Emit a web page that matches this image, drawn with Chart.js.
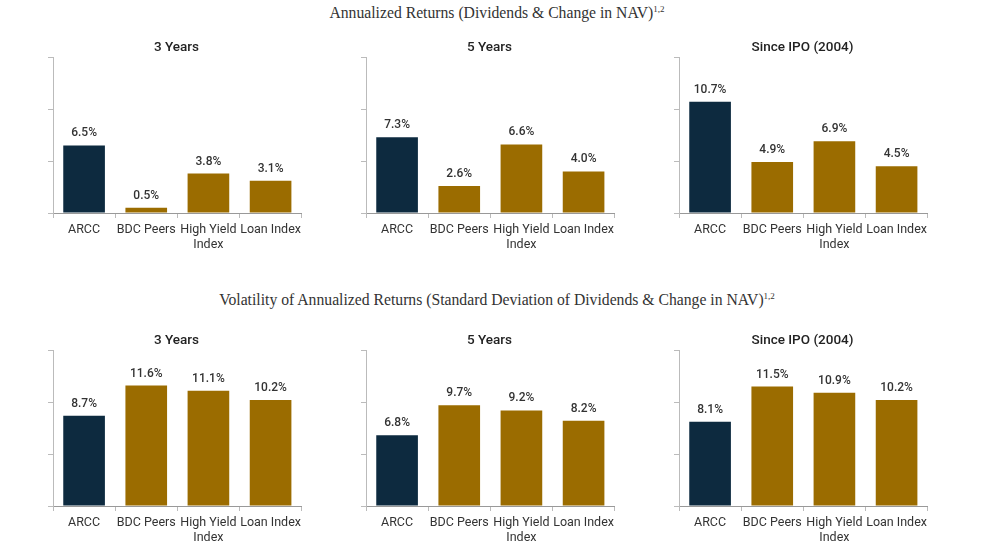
<!DOCTYPE html>
<html><head><meta charset="utf-8">
<script src="https://cdn.jsdelivr.net/npm/chart.js@4/dist/chart.umd.min.js"></script>
<style>
body{margin:0;background:#fff;width:994px;height:554px;position:relative;overflow:hidden;font-family:"Liberation Serif",serif;color:#333}
.h{position:absolute;left:0;width:994px;text-align:center;font-size:15.7px}
.h sup{font-size:9px}
.p{position:absolute;width:273px;height:220px}
</style></head><body>
<div class="h" style="top:4px">Annualized Returns (Dividends &amp; Change in NAV)<sup>1,2</sup></div>
<div class="h" style="top:291px">Volatility of Annualized Returns (Standard Deviation of Dividends &amp; Change in NAV)<sup>1,2</sup></div>
<div class="p" style="left:32px;top:36px"><canvas id="c0"></canvas></div>
<div class="p" style="left:345px;top:36px"><canvas id="c1"></canvas></div>
<div class="p" style="left:658px;top:36px"><canvas id="c2"></canvas></div>
<div class="p" style="left:32px;top:329px"><canvas id="c3"></canvas></div>
<div class="p" style="left:345px;top:329px"><canvas id="c4"></canvas></div>
<div class="p" style="left:658px;top:329px"><canvas id="c5"></canvas></div>
<script>
const categories = ['ARCC', 'BDC Peers', ['High Yield', 'Index'], 'Loan Index'];
const periods = ['3 Years', '5 Years', 'Since IPO (2004)'];
const returns3 = [6.5, 0.5, 3.8, 3.1];
const returns5 = [7.3, 2.6, 6.6, 4.0];
const returnsIPO = [10.7, 4.9, 6.9, 4.5];
const vol3 = [8.7, 11.6, 11.1, 10.2];
const vol5 = [6.8, 9.7, 9.2, 8.2];
const volIPO = [8.1, 11.5, 10.9, 10.2];
const yTicks = [0, 5, 10, 15];

const barColors = ['#0d2a3f', '#9b6c00', '#9b6c00', '#9b6c00'];

// draws value labels above the bars
const valueLabels = {
    id: 'valueLabels',
    afterDatasetsDraw(chart) {
        const ctx = chart.ctx;
        ctx.save();
        ctx.font = '500 12px Roboto';
        ctx.fillStyle = '#333';
        ctx.textAlign = 'center';
        chart.getDatasetMeta(0).data.forEach((bar, i) => {
            ctx.fillText(chart.data.datasets[0].data[i].toFixed(1) + '%', bar.x, bar.y - 9);
        });
        ctx.restore();
    }
};

function makeChart(id, title, values) {
    new Chart(document.getElementById(id), {
        type: 'bar',
        data: {
            labels: categories,
            datasets: [{ data: values, backgroundColor: barColors, barPercentage: 0.67, categoryPercentage: 1 }]
        },
        options: {
            responsive: false, animation: false,
            layout: { padding: { left: 16, right: 0, top: 0, bottom: 0 } },
            plugins: {
                legend: { display: false },
                tooltip: { enabled: false },
                title: { display: true, text: title, color: '#222', font: { family: 'Roboto', size: 13.5, weight: '500' }, padding: { top: 4, bottom: 1 } }
            },
            scales: {
                x: {
                    grid: { display: true, drawOnChartArea: false, offset: true, color: '#bbb', tickLength: 5 },
                    border: { color: '#999' },
                    ticks: { color: '#333', font: { family: 'Roboto', size: 12.5 }, padding: 4, maxRotation: 0, autoSkip: false }
                },
                y: {
                    min: 0, max: 15,
                    afterBuildTicks: axis => { axis.ticks = yTicks.map(v => ({ value: v })); },
                    grid: { drawOnChartArea: false, color: '#bbb', tickLength: 5 },
                    border: { color: '#bbb' },
                    ticks: { callback: () => '', padding: 0 }
                }
            }
        },
        plugins: [valueLabels]
    });
}

document.querySelectorAll('canvas').forEach(c => { c.width = 273; c.height = 220; });
makeChart('c0', periods[0], returns3);
makeChart('c1', periods[1], returns5);
makeChart('c2', periods[2], returnsIPO);
makeChart('c3', periods[0], vol3);
makeChart('c4', periods[1], vol5);
makeChart('c5', periods[2], volIPO);
</script>
</body></html>
